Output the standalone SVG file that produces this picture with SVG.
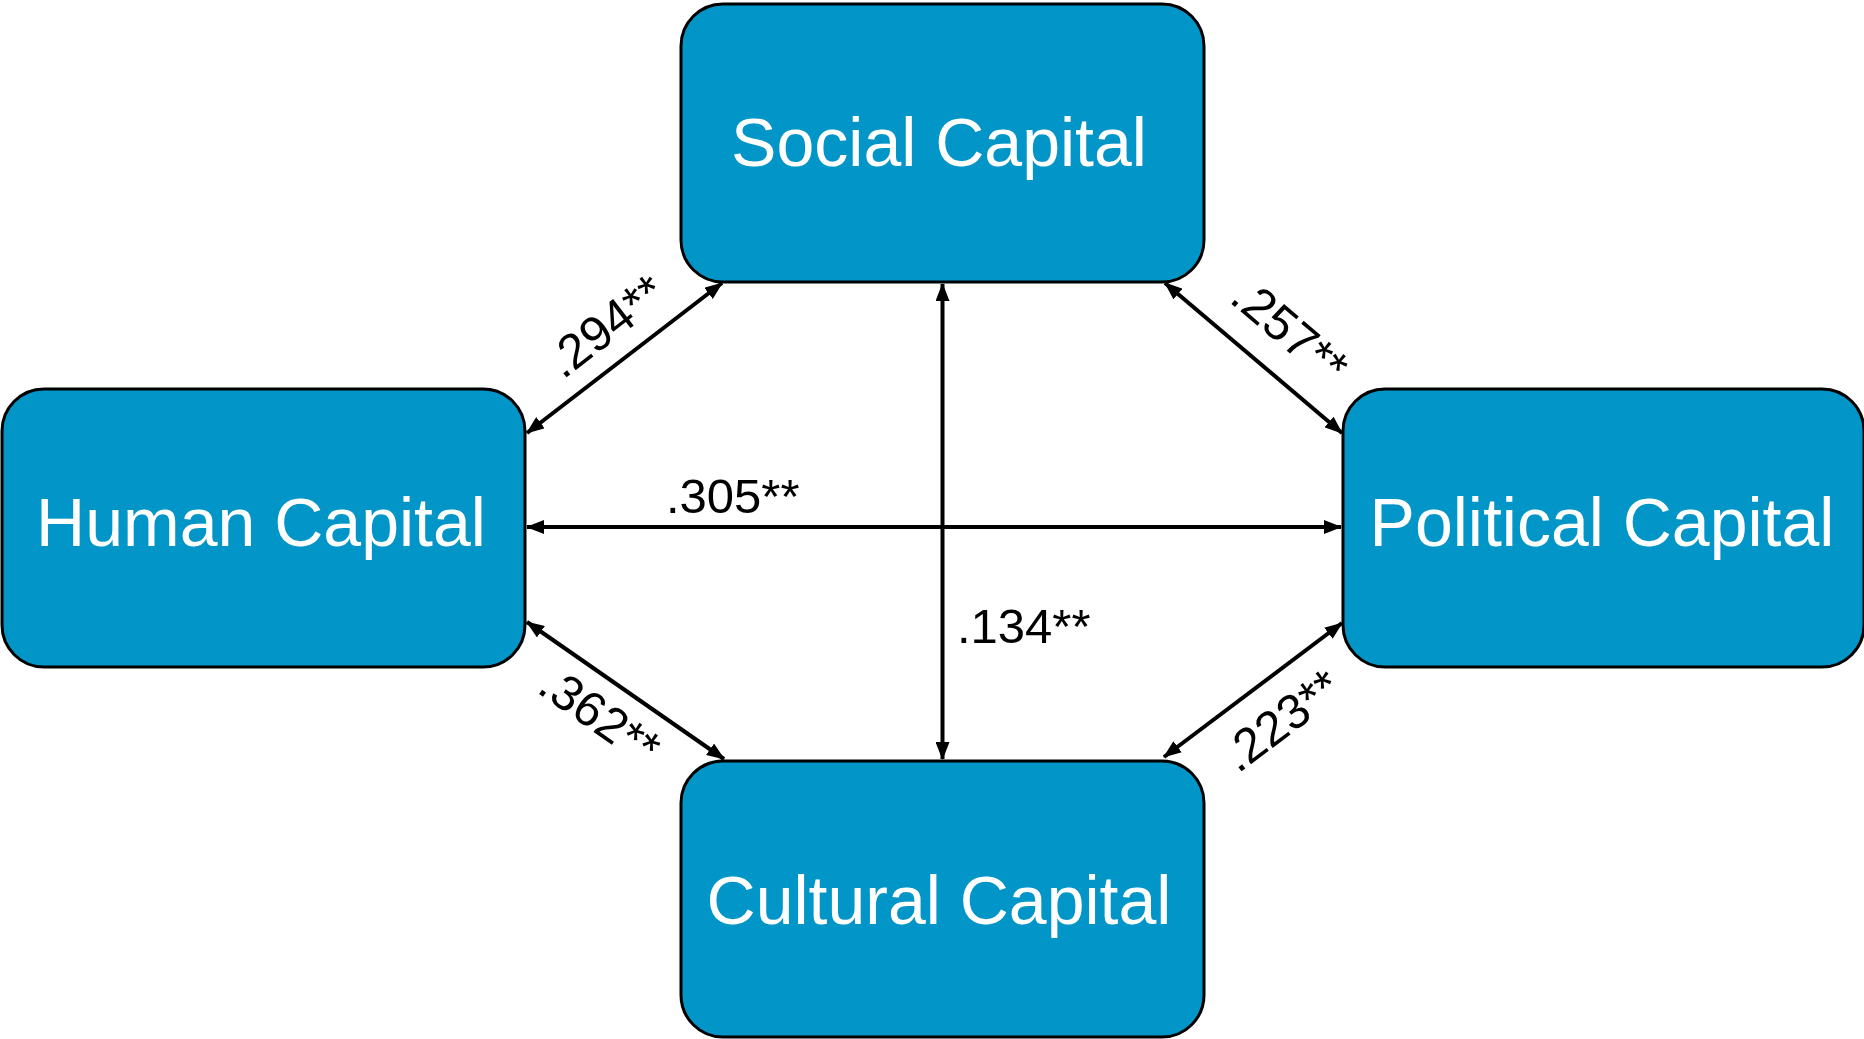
<svg xmlns="http://www.w3.org/2000/svg" width="1864" height="1039" viewBox="0 0 1864 1039">
  <style>
    .box { fill: #0295c8; stroke: #000; stroke-width: 3; }
    .ntext { font-family: "Liberation Sans", Arial, sans-serif; font-size: 68px; fill: #fff; text-anchor: middle; }
    .edge { stroke: #000; stroke-width: 4; fill: none; marker-start: url(#ah); marker-end: url(#ah); }
    .lbl { font-family: "Liberation Sans", Arial, sans-serif; font-size: 49px; fill: #000; }
  </style>
  <defs>
    <marker id="ah" markerUnits="userSpaceOnUse" markerWidth="18" markerHeight="14" viewBox="0 0 18 14" refX="17" refY="7" orient="auto-start-reverse">
      <path d="M0,0 L18,7 L0,14 z" fill="#000"/>
    </marker>
  </defs>
  <rect width="1864" height="1039" fill="#fff"/>

  <g id="connectors">
    <line class="edge" x1="942.5" y1="284" x2="942.5" y2="759"/>
    <line class="edge" x1="527" y1="527" x2="1341" y2="527"/>
    <line class="edge" x1="527" y1="433" x2="722" y2="283"/>
    <line class="edge" x1="1165" y1="283" x2="1342" y2="433"/>
    <line class="edge" x1="527" y1="622" x2="724" y2="759"/>
    <line class="edge" x1="1342" y1="623" x2="1164" y2="757"/>
  </g>

  <g id="labels">
    <text class="lbl" x="666" y="513">.305**</text>
    <text class="lbl" x="957" y="643">.134**</text>
    <text class="lbl" transform="translate(563,380) rotate(-37.6)">.294**</text>
    <text class="lbl" transform="translate(1228,301) rotate(40.1)">.257**</text>
    <text class="lbl" transform="translate(535.5,691.5) rotate(34.8)">.362**</text>
    <text class="lbl" transform="translate(1238,774) rotate(-36.9)">.223**</text>
  </g>

  <g id="social">
    <rect class="box" x="681" y="4" width="523" height="278" rx="42" ry="42"/>
    <text class="ntext" x="939" y="166">Social Capital</text>
  </g>
  <g id="human">
    <rect class="box" x="2" y="389" width="523" height="278" rx="42" ry="42"/>
    <text class="ntext" x="261" y="546">Human Capital</text>
  </g>
  <g id="political">
    <rect class="box" x="1343" y="389" width="521" height="278" rx="42" ry="42"/>
    <text class="ntext" x="1602" y="546">Political Capital</text>
  </g>
  <g id="cultural">
    <rect class="box" x="681" y="761" width="523" height="276" rx="42" ry="42"/>
    <text class="ntext" x="939" y="924">Cultural Capital</text>
  </g>
</svg>
